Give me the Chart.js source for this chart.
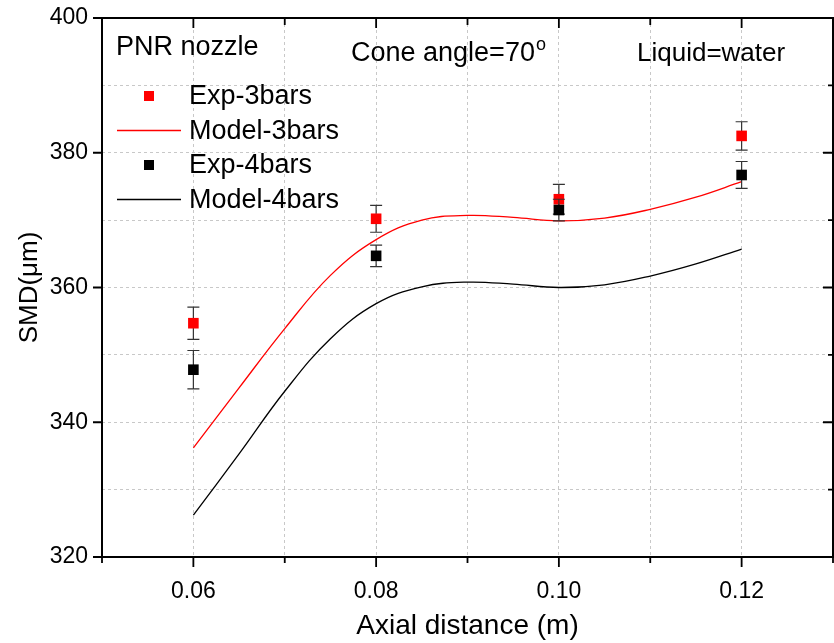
<!DOCTYPE html>
<html lang="en">
<head>
    <meta charset="UTF-8">
    <title>SMD vs axial distance</title>
    <script src="https://cdn.jsdelivr.net/npm/chart.js"></script>
    <style>
        body { margin: 0; background: #fff; }
        #box { width: 834px; height: 643px; }
    </style>
</head>
<body>
<div id="box"><canvas id="grafico" width="834" height="643"></canvas></div>
<script>
    // measured points
    var expX = [0.06, 0.08, 0.10, 0.12];
    var exp3 = [354.7, 370.2, 373.1, 382.5];
    var exp3Err = [2.4, 2.0, 2.2, 2.1];
    var exp4 = [347.8, 364.7, 371.5, 376.7];
    var exp4Err = [2.85, 1.6, 1.6, 2.0];

    // model curves
    var modelX = [0.06, 0.065, 0.07, 0.075, 0.08, 0.085, 0.09, 0.095, 0.10, 0.105, 0.11, 0.115, 0.12];
    var model3 = [336.2, 345.1, 353.9, 361.8, 367.1, 370.0, 370.7, 370.4, 369.9, 370.3, 371.6, 373.4, 375.7];
    var model4 = [326.2, 335.3, 344.6, 352.4, 357.6, 360.1, 360.8, 360.5, 360.0, 360.4, 361.7, 363.5, 365.7];

    var xLabels = [0.06, 0.08, 0.10, 0.12];
    var yLabels = [320, 340, 360, 380, 400];

    var fonte = '"Liberation Sans", Arial, sans-serif';

    function pares(xs, ys) {
        var out = [];
        for (var i = 0; i < xs.length; i++) out.push({ x: xs[i], y: ys[i] });
        return out;
    }

    function semPadding(s) {
        s.paddingLeft = 0; s.paddingRight = 0;
        s.paddingTop = 0; s.paddingBottom = 0;
    }

    var errosPorDataset = { 0: exp4Err, 1: exp3Err };

    var decor = {
        id: 'decor',
        beforeDatasetDraw: function (chart, args) {
            var erros = errosPorDataset[args.index];
            if (!erros) return;
            var ctx = chart.ctx;
            var xs = chart.scales.x, ys = chart.scales.y;
            var ds = chart.data.datasets[args.index].data;
            ctx.save();
            ctx.strokeStyle = '#333';
            ctx.lineWidth = 1.2;
            for (var i = 0; i < ds.length; i++) {
                var px = xs.getPixelForValue(ds[i].x);
                var top = ys.getPixelForValue(ds[i].y + erros[i]);
                var bot = ys.getPixelForValue(ds[i].y - erros[i]);
                ctx.beginPath();
                ctx.moveTo(px, top); ctx.lineTo(px, bot);
                ctx.moveTo(px - 6, top); ctx.lineTo(px + 6, top);
                ctx.moveTo(px - 6, bot); ctx.lineTo(px + 6, bot);
                ctx.stroke();
            }
            ctx.restore();
        },
        afterDraw: function (chart) {
            var ctx = chart.ctx;
            var a = chart.chartArea;
            var xs = chart.scales.x, ys = chart.scales.y;
            ctx.save();

            // frame
            ctx.strokeStyle = '#000';
            ctx.lineWidth = 2;
            ctx.strokeRect(a.left, a.top, a.right - a.left, a.bottom - a.top);

            // tick marks
            ctx.lineWidth = 1.8;
            ctx.beginPath();
            for (var k = 5; k <= 13; k++) {
                var px = xs.getPixelForValue(k / 100);
                var major = (k % 2 === 0);
                ctx.moveTo(px, a.bottom); ctx.lineTo(px, a.bottom + (major ? 10 : 6));
                ctx.moveTo(px, a.top); ctx.lineTo(px, a.top + (major ? 10 : 7));
            }
            for (var v = 320; v <= 400; v += 10) {
                var py = ys.getPixelForValue(v);
                var maj = (v % 20 === 0);
                if (maj) { ctx.moveTo(a.left, py); ctx.lineTo(a.left - 9, py); }
                ctx.moveTo(a.right, py); ctx.lineTo(a.right - (maj ? 10 : 5), py);
            }
            ctx.stroke();

            // annotations
            ctx.fillStyle = '#000';
            ctx.textBaseline = 'alphabetic';
            ctx.font = '27px ' + fonte;
            ctx.fillText('PNR nozzle', 116, 55);
            ctx.fillText('Cone angle=70', 351, 61);
            var w = ctx.measureText('Cone angle=70').width;
            ctx.font = '18px ' + fonte;
            ctx.fillText('o', 351 + w + 1, 50);
            ctx.font = '26px ' + fonte;
            ctx.fillText('Liquid=water', 637, 61);

            // legend
            var linhas = [
                { tipo: 'ponto', cor: '#ff0000', texto: 'Exp-3bars' },
                { tipo: 'linha', cor: '#ff0000', texto: 'Model-3bars' },
                { tipo: 'ponto', cor: '#000000', texto: 'Exp-4bars' },
                { tipo: 'linha', cor: '#000000', texto: 'Model-4bars' }
            ];
            ctx.font = '27px ' + fonte;
            ctx.textBaseline = 'middle';
            for (var i = 0; i < linhas.length; i++) {
                var y = 96 + i * 34.5;
                if (linhas[i].tipo === 'ponto') {
                    ctx.fillStyle = linhas[i].cor;
                    ctx.fillRect(144, y - 5, 10, 10);
                } else {
                    ctx.strokeStyle = linhas[i].cor;
                    ctx.lineWidth = 1.3;
                    ctx.beginPath();
                    ctx.moveTo(117, y); ctx.lineTo(181, y);
                    ctx.stroke();
                }
                ctx.fillStyle = '#000';
                ctx.fillText(linhas[i].texto, 189, y + 1);
            }
            ctx.restore();
        }
    };

    var ctx = document.getElementById('grafico').getContext('2d');
    var myChart = new Chart(ctx, {
        type: 'scatter',
        data: {
            datasets: [
                {
                    label: 'Exp-4bars',
                    data: pares(expX, exp4),
                    pointStyle: 'rect',
                    pointRadius: 7.5,
                    backgroundColor: '#000000',
                    borderWidth: 0,
                    showLine: false
                },
                {
                    label: 'Exp-3bars',
                    data: pares(expX, exp3),
                    pointStyle: 'rect',
                    pointRadius: 7.5,
                    backgroundColor: '#ff0000',
                    borderWidth: 0,
                    showLine: false
                },
                {
                    label: 'Model-3bars',
                    data: pares(modelX, model3),
                    showLine: true,
                    borderColor: '#ff0000',
                    borderWidth: 1.3,
                    pointRadius: 0,
                    tension: 0.4
                },
                {
                    label: 'Model-4bars',
                    data: pares(modelX, model4),
                    showLine: true,
                    borderColor: '#000000',
                    borderWidth: 1.3,
                    pointRadius: 0,
                    tension: 0.4
                }
            ]
        },
        options: {
            responsive: false,
            animation: false,
            layout: { autoPadding: false, padding: { top: 18, right: 1, left: 0, bottom: 0 } },
            plugins: {
                legend: { display: false },
                tooltip: { enabled: false }
            },
            scales: {
                x: {
                    type: 'linear',
                    min: 0.05,
                    max: 0.13,
                    afterFit: function (s) { s.height = 86; semPadding(s); },
                    afterBuildTicks: function (s) {
                        s.ticks = [];
                        for (var k = 5; k <= 13; k++) s.ticks.push({ value: k / 100 });
                    },
                    ticks: {
                        autoSkip: false,
                        maxRotation: 0,
                        padding: 21,
                        color: '#000',
                        font: { family: fonte, size: 23 },
                        callback: function (value) {
                            var k = Math.round(value * 100);
                            if (xLabels.indexOf(k / 100) < 0) return '';
                            return (k / 100).toFixed(2);
                        }
                    },
                    grid: {
                        color: '#c8c8c8',
                        lineWidth: 1,
                        drawTicks: false
                    },
                    border: { display: false, dash: [3, 3] },
                    title: {
                        display: true,
                        text: 'Axial distance (m)',
                        color: '#000',
                        font: { family: fonte, size: 28 },
                        padding: { top: 0, bottom: 0 }
                    }
                },
                y: {
                    min: 320,
                    max: 400,
                    afterFit: function (s) { s.width = 102; semPadding(s); },
                    afterBuildTicks: function (s) {
                        s.ticks = [];
                        for (var v = 320; v <= 400; v += 10) s.ticks.push({ value: v });
                    },
                    ticks: {
                        autoSkip: false,
                        padding: 14,
                        color: '#000',
                        font: { family: fonte, size: 23 },
                        callback: function (value) {
                            return yLabels.indexOf(value) >= 0 ? String(value) : '';
                        }
                    },
                    grid: {
                        color: '#c8c8c8',
                        lineWidth: 1,
                        drawTicks: false
                    },
                    border: { display: false, dash: [3, 3] },
                    title: {
                        display: true,
                        text: 'SMD(\u03bcm)',
                        color: '#000',
                        font: { family: fonte, size: 26 },
                        padding: { top: 14, bottom: 14 }
                    }
                }
            }
        },
        plugins: [decor]
    });
</script>
</body>
</html>
